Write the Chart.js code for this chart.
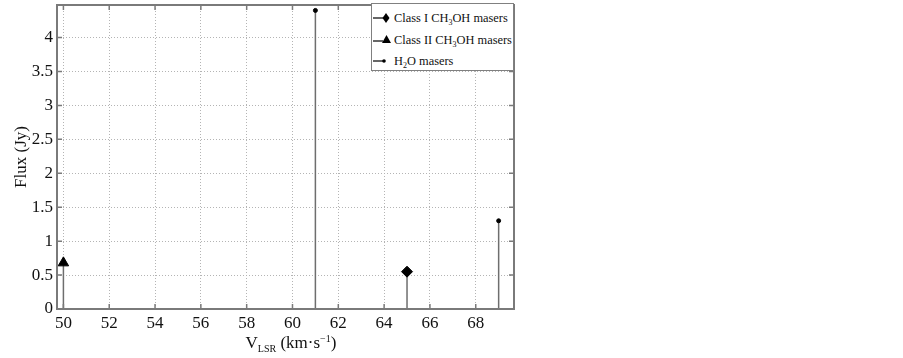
<!DOCTYPE html>
<html>
<head>
<meta charset="utf-8">
<script src="https://cdn.jsdelivr.net/npm/chart.js@4/dist/chart.umd.min.js"></script>
<style>
  body { margin: 0; background: #fff; }
  #wrap { position: relative; width: 903px; height: 358px; font-family: "Liberation Serif", "Times New Roman", serif; color: #111; }
  #chart { position: absolute; left: 0; top: 0; }
  #legend { position: absolute; left: 371px; top: 3px; width: 141px; height: 66px; border: 1px solid #808080; background: #fff; font-size: 12.4px; overflow: hidden; }
  #legend .row { position: absolute; left: 0; height: 20px; line-height: 20px; white-space: nowrap; }
  #legend svg { position: absolute; left: 1px; top: 2px; }
  #legend span { position: absolute; left: 22px; }
  #legend sub { font-size: 8px; vertical-align: -3px; line-height: 0; }
  #xtitle { position: absolute; left: 191px; width: 200px; top: 333px; text-align: center; font-size: 17px; white-space: nowrap; }
  #xtitle sub { font-size: 10px; vertical-align: -4px; line-height: 0; }
  #xtitle sup { font-size: 10px; vertical-align: 6px; line-height: 0; }
</style>
</head>
<body>
<div id="wrap">
  <canvas id="chart" width="903" height="358"></canvas>
  <div id="legend">
    <div class="row" style="top:4px">
      <svg width="20" height="16"><line x1="0" y1="8" x2="11" y2="8" stroke="#000" stroke-width="1.2"/><polygon points="13,3 16.5,8 13,13 9.5,8" fill="#000"/></svg>
      <span>Class I CH<sub>3</sub>OH masers</span>
    </div>
    <div class="row" style="top:26px">
      <svg width="20" height="16"><line x1="0" y1="9" x2="10" y2="9" stroke="#000" stroke-width="1.2"/><polygon points="13.5,3 18,11 9,11" fill="#000"/></svg>
      <span>Class II CH<sub>3</sub>OH masers</span>
    </div>
    <div class="row" style="top:47px">
      <svg width="20" height="16"><line x1="0" y1="8" x2="10" y2="8" stroke="#000" stroke-width="1.2"/><circle cx="11" cy="8" r="1.8" fill="#000"/></svg>
      <span>H<sub>2</sub>O masers</span>
    </div>
  </div>
  <div id="xtitle">V<sub>LSR</sub> (km·s<sup>−1</sup>)</div>
</div>
<script>
// maser velocities (km/s) and peak fluxes (Jy)
const classIVel = [65];
const classIFlux = [0.55];
const classIIVel = [50];
const classIIFlux = [0.68];
const h2oVel = [61, 69];
const h2oFlux = [4.4, 1.3];

// axis ranges
const xMin = 49.72, xMax = 69.67, xStep = 2;
const yMin = 0, yMax = 4.48, yStep = 0.5;

// stem plot: each value becomes a line from 0 up to the flux, broken by a null
function stems(vel, flux) {
  const pts = [];
  vel.forEach((v, i) => {
    pts.push({ x: v, y: 0 }, { x: v, y: flux[i] }, { x: v, y: null });
  });
  return pts;
}

function stemSet(label, vel, flux, style, radius) {
  return {
    label: label,
    data: stems(vel, flux),
    showLine: true,
    spanGaps: false,
    borderColor: "#6e6e6e",
    borderWidth: 1.5,
    pointStyle: style,
    pointRadius: (ctx) => (ctx.raw && ctx.raw.y ? radius : 0),
    pointHoverRadius: 0,
    pointBackgroundColor: "#000",
    pointBorderColor: "#000",
    pointBorderWidth: 1,
    clip: false,
  };
}

// box around the plot with small inward ticks on every side
const boxPlugin = {
  id: "box",
  afterDatasetsDraw(chart) {
    const { ctx, chartArea: a, scales } = chart;
    ctx.save();
    ctx.strokeStyle = "#7a7a7a";
    ctx.lineWidth = 1.5;
    ctx.beginPath();
    scales.x.ticks.forEach((t) => {
      const px = scales.x.getPixelForValue(t.value);
      ctx.moveTo(px, a.bottom); ctx.lineTo(px, a.bottom - 5);
      ctx.moveTo(px, a.top); ctx.lineTo(px, a.top + 5);
    });
    scales.y.ticks.forEach((t) => {
      const py = scales.y.getPixelForValue(t.value);
      ctx.moveTo(a.left, py); ctx.lineTo(a.left + 5, py);
      ctx.moveTo(a.right, py); ctx.lineTo(a.right - 5, py);
    });
    ctx.stroke();
    ctx.lineWidth = 2;
    ctx.strokeRect(a.left, a.top, a.right - a.left, a.bottom - a.top);
    ctx.restore();
  },
};

const tickFont = { family: "'Liberation Serif', 'Times New Roman', serif", size: 17 };
const numLabel = (v) => String(Number(v.toFixed(2)));

new Chart(document.getElementById("chart"), {
  type: "scatter",
  data: {
    datasets: [
      stemSet("Class I CH3OH masers", classIVel, classIFlux, "rectRot", 5.5),
      stemSet("Class II CH3OH masers", classIIVel, classIIFlux, "triangle", 6),
      stemSet("H2O masers", h2oVel, h2oFlux, "circle", 2),
    ],
  },
  options: {
    responsive: false,
    animation: false,
    layout: { padding: { left: 0, right: 389, top: 5, bottom: 0 } },
    plugins: { legend: { display: false }, tooltip: { enabled: false } },
    scales: {
      x: {
        type: "linear",
        min: xMin,
        max: xMax,
        afterFit: (s) => { s.height = 49; s.paddingLeft = 0; s.paddingRight = 0; },
        ticks: { stepSize: xStep, includeBounds: false, padding: 4, color: "#111", font: tickFont, maxRotation: 0, callback: numLabel },
        grid: { color: "#b4b4b4", lineWidth: 1, drawTicks: false },
        border: { display: false, dash: [1, 2] },
      },
      y: {
        type: "linear",
        min: yMin,
        max: yMax,
        afterFit: (s) => { s.width = 57; s.paddingTop = 0; s.paddingBottom = 0; },
        ticks: { stepSize: yStep, includeBounds: false, padding: 4, color: "#111", font: tickFont, callback: numLabel },
        grid: { color: "#b4b4b4", lineWidth: 1, drawTicks: false },
        border: { display: false, dash: [1, 2] },
        title: { display: true, text: "Flux (Jy)", color: "#111", font: tickFont, padding: { top: 11, bottom: 0 } },
      },
    },
  },
  plugins: [boxPlugin],
});
</script>
</body>
</html>
